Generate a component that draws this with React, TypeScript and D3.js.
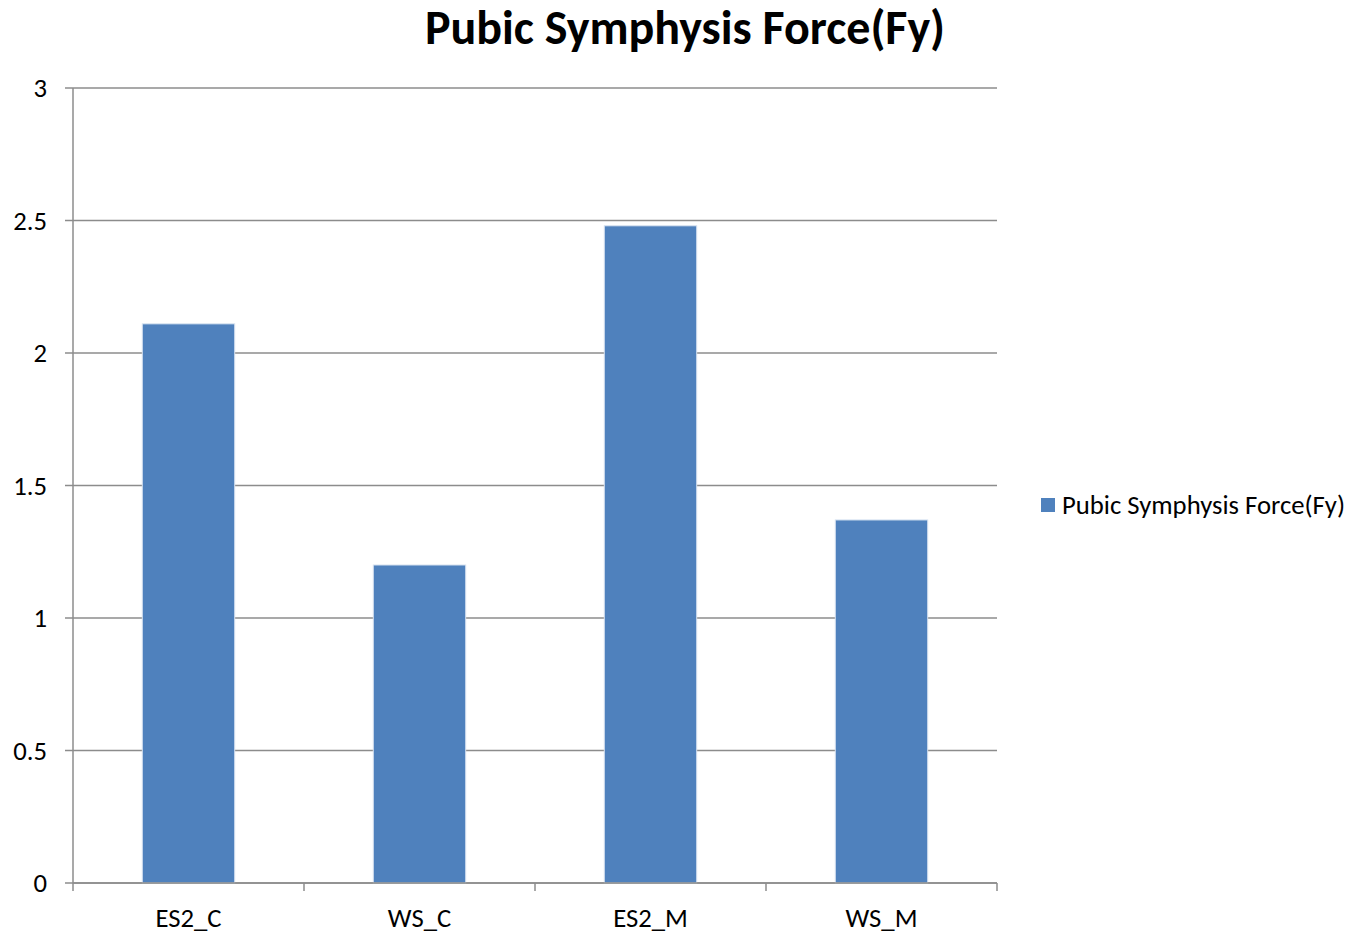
import React from "react";
import * as d3 from "d3";

const categories = ["ES2_C", "WS_C", "ES2_M", "WS_M"];
const forceValues = [2.11, 1.2, 2.48, 1.37];
const yTicks = [0, 0.5, 1, 1.5, 2, 2.5, 3];
const seriesName = "Pubic Symphysis Force(Fy)";
const chartTitle = "Pubic Symphysis Force(Fy)";

const W = 1351;
const H = 933;
const plot = { left: 73, right: 997, top: 88, bottom: 883 };
const FONT = "Carlito, Calibri, 'Open Sans', 'Noto Sans', sans-serif";
const BAR = "#4F81BD";
const GRID = "#8c8c8c";
const LABEL_SIZE = 26.7;

export default function App() {
  const x = d3
    .scaleBand<string>()
    .domain(categories)
    .range([plot.left, plot.right])
    .paddingInner(0.6)
    .paddingOuter(0.3);
  const y = d3.scaleLinear().domain([0, 3]).range([plot.bottom, plot.top]);
  const step = (plot.right - plot.left) / categories.length;
  const boundaries = d3.range(categories.length + 1).map((i) => plot.left + i * step);

  return (
    <svg
      width={W}
      height={H}
      style={{ position: "absolute", left: 0, top: 0, background: "#fff" }}
      fontFamily={FONT}
    >
      <rect x={0} y={0} width={W} height={H} fill="#fff" />
      <text
        x={685}
        y={44}
        textAnchor="middle"
        fontSize={48}
        fontWeight="bold"
        fill="#000"
      >
        {chartTitle}
      </text>

      {/* horizontal gridlines and y ticks */}
      {yTicks.map((t) => (
        <g key={t}>
          <line
            x1={plot.left - 8}
            x2={plot.right}
            y1={y(t)}
            y2={y(t)}
            stroke={GRID}
            strokeWidth={1.5}
          />
          <text
            x={47}
            y={y(t) + 9}
            textAnchor="end"
            fontSize={LABEL_SIZE}
            fill="#000"
          >
            {t}
          </text>
        </g>
      ))}

      {/* y axis line */}
      <line
        x1={plot.left}
        x2={plot.left}
        y1={plot.top}
        y2={plot.bottom}
        stroke={GRID}
        strokeWidth={1.5}
      />

      {/* bars */}
      {categories.map((c, i) => (
        <rect
          key={c}
          x={x(c)}
          y={y(forceValues[i])}
          width={x.bandwidth()}
          height={y(0) - y(forceValues[i])}
          fill={BAR}
          stroke="#d6e2f0"
          strokeWidth={1}
        />
      ))}

      {/* category tick marks */}
      {boundaries.map((b, i) => (
        <line
          key={i}
          x1={b}
          x2={b}
          y1={plot.bottom}
          y2={plot.bottom + 8}
          stroke={GRID}
          strokeWidth={1.5}
        />
      ))}
      <line
        x1={plot.left}
        x2={plot.right}
        y1={plot.bottom}
        y2={plot.bottom}
        stroke={GRID}
        strokeWidth={1.5}
      />

      {/* category labels */}
      {categories.map((c) => (
        <text
          key={c}
          x={(x(c) as number) + x.bandwidth() / 2}
          y={927}
          textAnchor="middle"
          fontSize={LABEL_SIZE}
          fill="#000"
        >
          {c}
        </text>
      ))}

      {/* legend */}
      <rect x={1041} y={498} width={14} height={14} fill={BAR} />
      <text x={1062} y={514} fontSize={LABEL_SIZE} fill="#000">
        {seriesName}
      </text>
    </svg>
  );
}
